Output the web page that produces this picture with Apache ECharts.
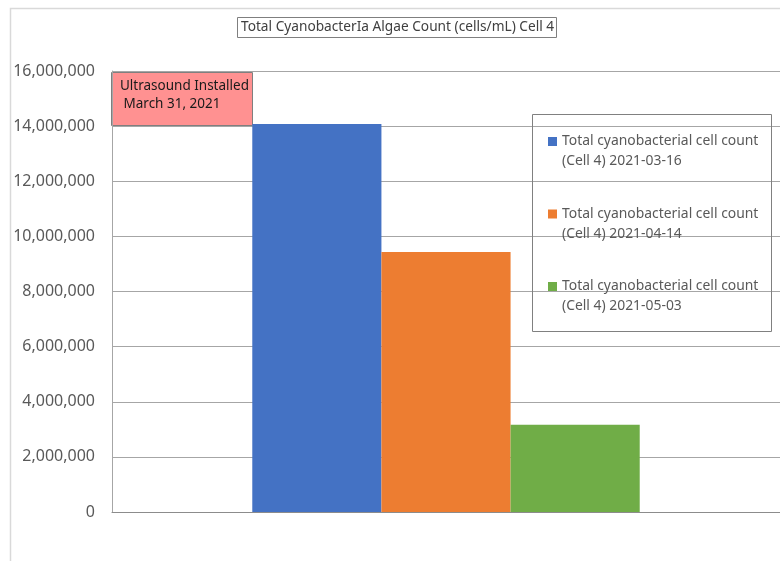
<!DOCTYPE html>
<html>
<head>
<meta charset="utf-8">
<script src="https://cdn.jsdelivr.net/npm/echarts@6/dist/echarts.min.js"></script>
<style>
html,body{margin:0;padding:0;background:#fff;}
#chart{width:780px;height:561px;}
</style>
</head>
<body>
<div id="chart"></div>
<script>
// ---- data ----
const categories = [''];
const seriesNames = [
  'Total cyanobacterial cell count (Cell 4) 2021-03-16',
  'Total cyanobacterial cell count (Cell 4) 2021-04-14',
  'Total cyanobacterial cell count (Cell 4) 2021-05-03'
];
const values0316 = [14080000];
const values0414 = [9430000];
const values0503 = [3170000];
const seriesColors = ['#4472C4', '#ED7D31', '#70AD47'];
const yTicks = [0, 2000000, 4000000, 6000000, 8000000, 10000000, 12000000, 14000000, 16000000];
const chartTitle = 'Total CyanobacterIa Algae Count (cells/mL) Cell 4';
const annotationLines = ['Ultrasound Installed', ' March 31, 2021'];

const seriesValues = [values0316, values0414, values0503];

const chart = echarts.init(document.getElementById('chart'), null, {renderer: 'canvas'});
const FONT = '"Noto Sans", "Open Sans", sans-serif';

const option = {
  animation: false,
  backgroundColor: '#ffffff',
  title: {
    text: chartTitle,
    left: 237,
    top: 17,
    padding: [3, 3, 3, 4],
    borderColor: '#7f7f7f',
    borderWidth: 1,
    textStyle: {fontFamily: FONT, fontSize: 13.7, fontWeight: 'normal', color: '#404040', lineHeight: 15}
  },
  legend: {
    orient: 'vertical',
    left: 548,
    top: 111.5,
    padding: 0,
    itemWidth: 9,
    itemHeight: 9,
    itemGap: 12.5,
    icon: 'rect',
    data: seriesNames,
    formatter: function (name) {
      const i = name.indexOf(' (Cell');
      return ' \n' + name.slice(0, i) + '\n' + name.slice(i + 1);
    },
    textStyle: {fontFamily: FONT, fontSize: 13.9, color: '#595959', lineHeight: 20}
  },
  grid: {left: 112, top: 71, width: 671, height: 441, containLabel: false},
  xAxis: {
    type: 'category',
    data: categories,
    axisLine: {show: true, lineStyle: {color: '#8c8c8c', width: 1}},
    axisTick: {show: false},
    axisLabel: {show: false},
    splitLine: {show: false}
  },
  yAxis: {
    type: 'value',
    min: yTicks[0],
    max: yTicks[yTicks.length - 1],
    interval: yTicks[1] - yTicks[0],
    axisLine: {show: true, lineStyle: {color: '#a6a6a6', width: 1}},
    axisTick: {show: false},
    axisLabel: {
      margin: 17,
      fontFamily: FONT,
      fontSize: 16,
      color: '#595959',
      formatter: function (v) { return v.toLocaleString('en-US'); }
    },
    splitLine: {show: true, lineStyle: {color: '#a6a6a6', width: 1}}
  },
  series: seriesNames.map(function (n, i) {
    return {
      name: n,
      type: 'bar',
      data: seriesValues[i],
      barGap: '0%',
      barCategoryGap: '42%',
      itemStyle: {color: seriesColors[i]},
      z: 2
    };
  }),
  graphic: [
    {
      type: 'rect', z: -10, silent: true,
      shape: {x: 10.5, y: 8.5, width: 800, height: 600},
      style: {fill: null, stroke: '#d9d9d9', lineWidth: 1.5}
    },
    {
      type: 'rect', z: 10, silent: true,
      shape: {x: 532.5, y: 114.5, width: 239, height: 217},
      style: {fill: null, stroke: '#808080', lineWidth: 1}
    },
    {
      type: 'group', z: 20, silent: true,
      children: [
        {
          type: 'rect',
          shape: {x: 111.5, y: 72.5, width: 141, height: 53},
          style: {fill: '#FF9191', stroke: '#7f7f7f', lineWidth: 1}
        },
        {
          type: 'text',
          style: {x: 120, y: 86, text: annotationLines[0], font: '13.5px ' + FONT, fill: '#1a1a1a', verticalAlign: 'middle'}
        },
        {
          type: 'text',
          style: {x: 120, y: 104, text: annotationLines[1], font: '13.5px ' + FONT, fill: '#1a1a1a', verticalAlign: 'middle'}
        }
      ]
    }
  ]
};
chart.setOption(option);
</script>
</body>
</html>
